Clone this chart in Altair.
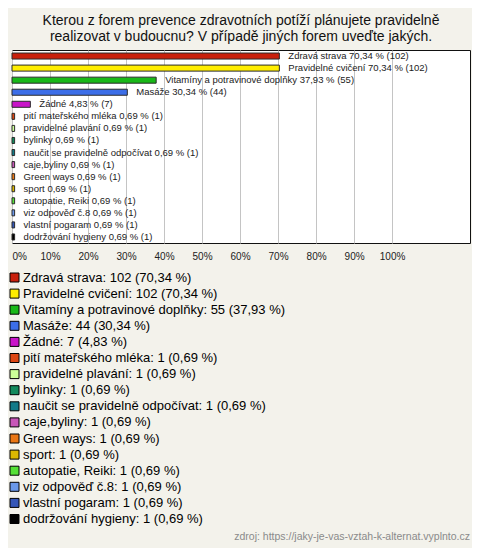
import altair as alt
import pandas as pd

names = [
    "Zdravá strava", "Pravidelné cvičení", "Vitamíny a potravinové doplňky", "Masáže",
    "Žádné", "pití mateřského mléka", "pravidelné plavání", "bylinky",
    "naučit se pravidelně odpočívat", "caje,byliny", "Green ways", "sport",
    "autopatie, Reiki", "viz odpověď č.8", "vlastní pogaram", "dodržování hygieny",
]
counts = [102, 102, 55, 44, 7, 1, 1, 1, 1, 1, 1, 1, 1, 1, 1, 1]
pcts = [70.34, 70.34, 37.93, 30.34, 4.83, 0.69, 0.69, 0.69, 0.69, 0.69, 0.69, 0.69, 0.69, 0.69, 0.69, 0.69]
colors = [
    "#c8200c", "#ffee00", "#18b818", "#3c6ee8", "#c814c8", "#dc4612", "#ccff99", "#138a5c",
    "#137a88", "#c856b8", "#ea7614", "#dcb800", "#55e036", "#6a98ea", "#3456b8", "#000000",
]
ticks = [0, 10, 20, 30, 40, 50, 60, 70, 80, 90, 100]
title_lines = [
    "Kterou z forem prevence zdravotních potíží plánujete pravidelně",
    "realizovat v budoucnu? V případě jiných forem uveďte jakých.",
]
source = "zdroj: https://jaky-je-vas-vztah-k-alternat.vyplnto.cz"


def fmt(p):
    return f"{p:.2f}".replace(".", ",")


df = pd.DataFrame({
    "name": names,
    "count": counts,
    "pct": pcts,
    "bar_label": [f"{n} {fmt(p)} % ({c})" for n, c, p in zip(names, counts, pcts)],
    "legend_label": [f"{n}: {c} ({fmt(p)} %)" for n, c, p in zip(names, counts, pcts)],
})
legend_labels = list(df["legend_label"])

FONT = "Liberation Sans"
W, H = 458, 193
PAD_L, PAD_T = 4, 42
TOTAL_W, TOTAL_H = 464, 540

y_enc = alt.Y("name:N", sort=names, axis=None,
              scale=alt.Scale(paddingInner=0.5, paddingOuter=0.25))
x_scale = alt.Scale(domain=[0, 120.5], nice=False, zero=True)

bars = alt.Chart(df).mark_bar(stroke="#2a2a2a", strokeWidth=1).encode(
    x=alt.X("pct:Q", scale=x_scale,
            axis=alt.Axis(values=ticks, labelExpr="datum.value + '%'", title=None,
                          grid=True, gridColor="#c4c4c4", gridWidth=1,
                          domain=False, ticks=False, tickSize=0, labelPadding=8,
                          labelFont=FONT, labelFontSize=10, labelColor="#222",
                          labelFlush=True)),
    y=y_enc,
    color=alt.Color("legend_label:N", sort=legend_labels,
                    scale=alt.Scale(domain=legend_labels, range=colors),
                    legend=alt.Legend(title=None, orient="none", legendX=-4, legendY=221,
                                      symbolType="square", symbolSize=81,
                                      symbolStrokeColor="#000", symbolStrokeWidth=1,
                                      symbolOpacity=1,
                                      labelFont=FONT, labelFontSize=13, labelColor="#000",
                                      labelLimit=0, rowPadding=2.1, padding=0,
                                      labelOffset=2, symbolOffset=0, offset=0)),
)

labels = alt.Chart(df).mark_text(align="left", baseline="middle", dx=9,
                                 font=FONT, fontSize=9.5, color="#222").encode(
    x=alt.X("pct:Q", scale=x_scale),
    y=y_enc,
    text="bar_label:N",
)

src = alt.Chart(pd.DataFrame({"t": [source]})).mark_text(
    align="right", baseline="middle", font=FONT, fontSize=10.5, color="#8a8a8a"
).encode(
    x=alt.value(W),
    y=alt.value(529 - PAD_T),
    text="t:N",
)

chart = alt.layer(bars, labels, src).properties(
    width=W, height=H,
    title=alt.TitleParams(title_lines, anchor="middle", font=FONT, fontSize=14,
                          fontWeight="normal", color="#111", lineHeight=16, offset=6),
    autosize=alt.AutoSizeParams(type="none"),
    padding={"left": PAD_L, "top": PAD_T, "right": TOTAL_W - W - PAD_L,
             "bottom": TOTAL_H - H - PAD_T},
    background="#f3f2eb",
).configure_view(fill="white", stroke="#111", strokeWidth=1)

chart.save("out.html", embed_options={"renderer": "svg", "actions": False})
